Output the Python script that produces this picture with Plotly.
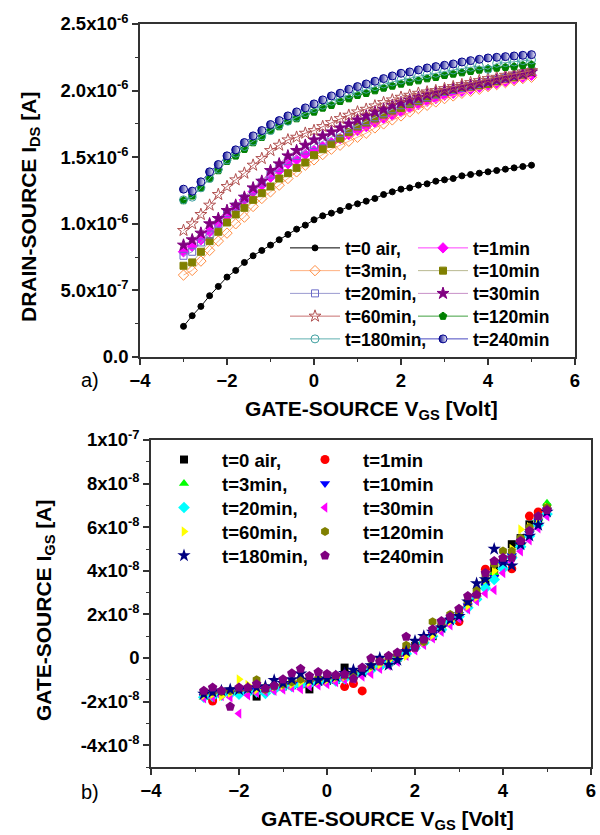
import plotly.graph_objects as go

# ---------------- data: panel a) drain-source current (values in 1e-6 A) ----------------
vgs_a = [round(-3 + 0.2 * i, 1) for i in range(41)]

ids_0air = [0.23,0.31,0.38,0.46,0.53,0.60,0.65,0.71,0.76,0.80,0.84,0.88,0.92,0.96,0.99,1.03,1.06,1.08,1.10,1.13,1.15,1.17,1.19,1.22,1.24,1.26,1.27,1.29,1.30,1.32,1.33,1.34,1.36,1.37,1.38,1.39,1.40,1.41,1.42,1.43,1.44]
ids_1min = [0.79,0.83,0.88,0.94,1.00,1.06,1.13,1.18,1.24,1.29,1.35,1.40,1.45,1.48,1.52,1.55,1.58,1.61,1.64,1.67,1.70,1.73,1.76,1.79,1.815,1.84,1.87,1.895,1.92,1.94,1.965,1.98,1.995,2.01,2.025,2.04,2.055,2.07,2.085,2.10,2.115]
ids_3min = [0.615,0.65,0.72,0.80,0.87,0.93,1.00,1.05,1.13,1.19,1.24,1.29,1.34,1.39,1.44,1.48,1.52,1.56,1.59,1.62,1.65,1.68,1.72,1.75,1.78,1.81,1.84,1.865,1.89,1.915,1.94,1.96,1.98,1.995,2.01,2.03,2.045,2.06,2.075,2.09,2.10]
ids_10min = [0.685,0.71,0.79,0.87,0.94,1.01,1.07,1.12,1.18,1.23,1.28,1.34,1.38,1.42,1.46,1.515,1.56,1.60,1.64,1.69,1.73,1.76,1.79,1.82,1.85,1.87,1.90,1.92,1.945,1.97,1.99,2.005,2.02,2.03,2.04,2.05,2.07,2.09,2.10,2.12,2.14]
ids_20min = [0.76,0.79,0.86,0.92,1.00,1.08,1.13,1.19,1.25,1.31,1.37,1.42,1.47,1.51,1.55,1.59,1.62,1.65,1.68,1.71,1.74,1.77,1.80,1.83,1.86,1.89,1.91,1.93,1.95,1.97,1.99,2.005,2.02,2.035,2.05,2.065,2.08,2.095,2.11,2.13,2.15]
ids_30min = [0.84,0.88,0.93,1.00,1.04,1.10,1.14,1.20,1.27,1.32,1.40,1.45,1.51,1.55,1.59,1.63,1.66,1.69,1.72,1.75,1.78,1.81,1.84,1.86,1.89,1.91,1.93,1.95,1.97,1.985,2.00,2.015,2.03,2.04,2.055,2.065,2.08,2.095,2.11,2.125,2.14]
ids_60min = [0.95,1.00,1.07,1.14,1.22,1.28,1.33,1.38,1.44,1.49,1.55,1.59,1.63,1.65,1.68,1.70,1.73,1.76,1.79,1.815,1.84,1.86,1.885,1.91,1.93,1.95,1.965,1.98,1.99,2.00,2.015,2.03,2.045,2.06,2.075,2.09,2.10,2.115,2.125,2.14,2.15]
ids_120min = [1.175,1.21,1.27,1.34,1.40,1.47,1.51,1.56,1.61,1.65,1.70,1.73,1.77,1.79,1.815,1.84,1.87,1.89,1.92,1.94,1.965,1.98,2.00,2.02,2.035,2.05,2.065,2.075,2.09,2.10,2.115,2.125,2.135,2.145,2.155,2.165,2.17,2.175,2.18,2.19,2.195]
ids_180min = [1.18,1.20,1.27,1.34,1.41,1.48,1.53,1.58,1.62,1.66,1.70,1.74,1.77,1.80,1.835,1.865,1.89,1.92,1.945,1.97,1.99,2.01,2.03,2.05,2.065,2.08,2.095,2.105,2.12,2.13,2.145,2.155,2.165,2.175,2.185,2.16,2.205,2.21,2.215,2.225,2.23]
ids_240min = [1.26,1.245,1.315,1.39,1.445,1.51,1.555,1.61,1.66,1.70,1.745,1.775,1.81,1.84,1.87,1.90,1.93,1.96,1.98,2.01,2.03,2.05,2.07,2.09,2.11,2.13,2.14,2.155,2.17,2.18,2.19,2.20,2.215,2.225,2.235,2.245,2.25,2.255,2.26,2.265,2.27]

# ---------------- data: panel b) gate-source current (values in 1e-8 A) ----------------
vgs_b = [round(-2.8 + 0.2 * i, 1) for i in range(40)]

igs_0air = [-1.65,-1.75,-1.6,-1.55,-1.5,-1.5,-1.77,-1.45,-1.35,-1.3,-1.25,-1.2,-1.44,-1.1,-1.05,-1.0,-0.44,-0.8,-0.65,-0.45,-0.3,-0.2,0.0,0.3,0.55,0.8,1.0,1.4,1.8,2.0,2.5,2.8,3.5,4.1,4.5,5.22,5.5,6.13,6.3,6.9]
igs_1min = [-1.75,-1.97,-1.65,-1.6,-1.55,-1.5,-1.45,-1.4,-1.35,-1.3,-1.2,-1.15,-1.1,-1.1,-1.05,-1.0,-1.31,-1.17,-1.51,-0.5,-0.35,-0.2,0.0,0.3,0.55,0.8,1.1,1.4,1.8,1.67,2.4,2.8,4.07,3.8,4.4,4.09,5.3,6.51,6.7,6.8]
igs_3min = [-1.8,-1.7,-1.65,-1.6,-1.6,-1.55,-1.5,-1.45,-1.4,-1.3,-1.25,-1.2,-1.15,-1.1,-1.05,-1.0,-0.9,-0.8,-0.65,-0.5,-0.35,-0.2,0.0,0.25,0.5,0.8,1.1,1.45,1.8,2.0,2.4,2.8,3.4,3.9,4.4,4.8,5.3,5.9,6.4,7.1]
igs_10min = [-1.75,-1.7,-1.65,-1.6,-1.55,-1.5,-1.48,-1.45,-1.38,-1.3,-1.25,-1.2,-1.15,-1.1,-1.05,-1.0,-0.9,-0.8,-0.65,-0.5,-0.35,-0.2,0.0,0.3,0.55,0.8,1.1,1.4,1.75,2.0,2.4,2.75,3.3,3.7,4.3,4.7,5.2,5.7,6.3,6.8]
igs_20min = [-1.8,-1.75,-1.7,-1.65,-1.66,-1.6,-1.55,-1.62,-1.45,-1.35,-1.3,-1.25,-1.2,-1.15,-1.1,-1.05,-0.95,-0.85,-0.7,-0.55,-0.4,-0.25,-0.05,0.2,0.45,0.7,1.0,1.3,1.65,1.9,2.3,2.7,3.2,3.6,4.1,4.6,5.1,5.6,6.1,6.6]
igs_30min = [-1.85,-1.8,-1.75,-1.8,-2.55,-1.71,-1.6,-1.55,-1.5,-1.45,-1.36,-1.43,-1.3,-1.25,-1.2,-1.1,-1.0,-0.95,-0.85,-0.73,-0.5,-0.35,-0.18,0.1,0.35,0.6,0.9,1.2,1.5,1.8,2.23,2.61,2.96,3.12,3.9,4.4,4.9,5.4,5.95,6.5]
igs_60min = [-1.7,-1.65,-1.75,-1.6,-0.98,-1.24,-1.45,-1.4,-1.3,-1.25,-1.2,-1.1,-1.1,-1.05,-1.0,-0.9,-0.85,-0.75,-0.6,-0.45,-0.3,-0.1,0.0,0.1,0.5,0.75,1.05,1.4,1.7,2.0,2.4,2.8,3.6,4.0,4.5,5.0,5.9,6.0,6.4,6.9]
igs_120min = [-1.6,-1.55,-1.55,-1.5,-1.45,-1.4,-1.0,-1.45,-1.3,-1.2,-1.1,-0.98,-1.0,-0.95,-0.9,-0.85,-0.8,-0.7,-0.55,-0.35,-0.1,0.05,0.15,0.58,0.6,0.75,1.66,1.6,2.0,2.1,2.6,3.1,3.83,4.3,4.91,4.9,5.5,6.0,6.5,6.9]
igs_180min = [-1.65,-1.56,-1.5,-1.44,-1.45,-1.4,-1.35,-1.3,-1.02,-1.15,-0.98,-0.72,-1.0,-1.02,-0.95,-0.85,-0.7,-0.55,-0.65,-0.34,0.0,-0.32,-0.1,0.3,0.78,1.0,1.2,1.39,1.75,1.92,2.58,3.42,3.61,5.0,4.4,4.24,5.2,5.6,6.1,6.7]
igs_240min = [-1.5,-1.35,-1.5,-2.23,-1.35,-1.35,-1.2,-1.4,-1.27,-0.98,-0.7,-0.49,-0.82,-0.64,-0.73,-0.78,-0.75,-0.95,-0.44,-0.01,-0.16,0.1,0.25,0.98,0.47,0.85,1.32,1.7,1.9,2.26,2.84,2.9,3.9,4.45,4.6,4.6,5.37,5.83,6.5,6.79]

labels = ["t=0 air,", "t=1min", "t=3min,", "t=10min", "t=20min,", "t=30min",
          "t=60min,", "t=120min", "t=180min,", "t=240min"]

# x tick labels / y tick labels
x_ticks = [-4, -2, 0, 2, 4, 6]
ya_tickvals = [0, 0.5e-6, 1.0e-6, 1.5e-6, 2.0e-6, 2.5e-6]
ya_ticktext = ["0.0", "5.0x10<sup>-7</sup>", "1.0x10<sup>-6</sup>", "1.5x10<sup>-6</sup>",
               "2.0x10<sup>-6</sup>", "2.5x10<sup>-6</sup>"]
yb_tickvals = [-4e-8, -2e-8, 0, 2e-8, 4e-8, 6e-8, 8e-8, 1e-7]
yb_ticktext = ["-4x10<sup>-8</sup>", "-2x10<sup>-8</sup>", "0", "2x10<sup>-8</sup>",
               "4x10<sup>-8</sup>", "6x10<sup>-8</sup>", "8x10<sup>-8</sup>", "1x10<sup>-7</sup>"]

FONT = "Liberation Sans, Arial, sans-serif"
W, H = 600, 835
def px_x(p): return p / W
def px_y(p): return 1 - p / H

def legend_name(k):
    return "legend" if k == 0 else "legend%d" % (k + 1)

fig = go.Figure()

# ---- panel a traces ----
ids_series = [ids_0air, ids_1min, ids_3min, ids_10min, ids_20min, ids_30min,
              ids_60min, ids_120min, ids_180min, ids_240min]
a_style = [
    dict(symbol="circle", mc="#000000", lc="#000000", size=6),
    dict(symbol="diamond", mc="#ff00ff", lc="#ff40ff", size=8),
    dict(symbol="diamond-open", mc="#ff8c40", lc="#ffb080", size=8),
    dict(symbol="square", mc="#808000", lc="#b8b890", size=7),
    dict(symbol="square-open", mc="#6a6ac8", lc="#9a9ad0", size=7),
    dict(symbol="star", mc="#800080", lc="#c890c8", size=9),
    dict(symbol="star-open", mc="#b05050", lc="#c87070", size=9),
    dict(symbol="pentagon", mc="#008000", lc="#40a040", size=8),
    dict(symbol="circle-open", mc="#40a0a0", lc="#60b0b0", size=8),
    dict(symbol="circle", mc="#00008c", lc="#4848c0", size=8),
]
for i, (vals, st) in enumerate(zip(ids_series, a_style)):
    marker = dict(symbol=st["symbol"], color=st["mc"], size=st["size"],
                  line=dict(color=st["mc"], width=1))
    if i == 9:
        marker["gradient"] = dict(type="horizontal", color="#ffffff")
    fig.add_trace(go.Scatter(
        x=vgs_a, y=[v * 1e-6 for v in vals], mode="lines+markers", name=labels[i],
        line=dict(color=st["lc"], width=1), marker=marker, showlegend=True,
        xaxis="x", yaxis="y", legend=legend_name(i)))

# ---- panel b traces ----
igs_series = [igs_0air, igs_1min, igs_3min, igs_10min, igs_20min, igs_30min,
              igs_60min, igs_120min, igs_180min, igs_240min]
b_style = [
    ("square", "#000000", 8), ("circle", "#ff0000", 9), ("triangle-up", "#00ff00", 9),
    ("triangle-down", "#0000ff", 9), ("diamond", "#00ffff", 9), ("triangle-left", "#ff00ff", 9),
    ("triangle-right", "#ffff00", 9), ("hexagon", "#808000", 9), ("star", "#000080", 10),
    ("pentagon", "#800080", 10),
]
for i, (vals, (sym, col, sz)) in enumerate(zip(igs_series, b_style)):
    fig.add_trace(go.Scatter(
        x=vgs_b, y=[v * 1e-8 for v in vals], mode="markers", name=labels[i],
        marker=dict(symbol=sym, color=col, size=sz, line=dict(width=0)), showlegend=True,
        xaxis="x2", yaxis="y2", legend=legend_name(10 + i)))

axis_common = dict(showline=True, linecolor="#333333", linewidth=1.5, mirror=True,
                   ticks="outside", ticklen=6, tickwidth=1.5, tickcolor="#333333",
                   showgrid=False, zeroline=False, automargin=False,
                   tickfont=dict(family=FONT, size=18.5, color="#000000", weight="bold"))

minor_x = dict(ticks="outside", ticklen=3, tickwidth=1.2, tickcolor="#333333", dtick=1, tick0=-3)
fig.update_layout(
    width=W, height=H, margin=dict(l=0, r=0, t=0, b=0, autoexpand=False),
    paper_bgcolor="white", plot_bgcolor="white", showlegend=True,
    font=dict(family=FONT, color="#000000"),
    xaxis=dict(domain=[px_x(140), px_x(575)], range=[-4, 6], anchor="y",
               tickmode="array", tickvals=x_ticks, minor=minor_x, **axis_common),
    yaxis=dict(domain=[px_y(357), px_y(24)], range=[0, 2.5e-6], anchor="x",
               tickmode="array", tickvals=ya_tickvals, ticktext=ya_ticktext,
               minor=dict(ticks="outside", ticklen=3, tickwidth=1.2, tickcolor="#333333", dtick=0.25e-6, tick0=0),
               **axis_common),
    xaxis2=dict(domain=[px_x(151), px_x(591)], range=[-4, 6], anchor="y2",
                tickmode="array", tickvals=x_ticks, minor=minor_x, **axis_common),
    yaxis2=dict(domain=[px_y(767), px_y(440)], range=[-5e-8, 1e-7], anchor="x2",
                tickmode="array", tickvals=yb_tickvals, ticktext=yb_ticktext,
                minor=dict(ticks="outside", ticklen=3, tickwidth=1.2, tickcolor="#333333", dtick=1e-8, tick0=0),
                **axis_common),
)

# one legend per entry so the 2-column grid matches the reference exactly
leg_a = dict(xanchor="left", yanchor="middle", bgcolor="rgba(0,0,0,0)", borderwidth=0,
             itemwidth=50, visible=True,
             font=dict(family=FONT, size=17.5, color="#000000", weight="bold"))
leg_b = dict(xanchor="left", yanchor="middle", bgcolor="rgba(0,0,0,0)", borderwidth=0,
             itemwidth=66, visible=True,
             font=dict(family=FONT, size=18.5, color="#000000", weight="bold"))
legend_layout = {}
for i in range(10):
    row, col = i // 2, i % 2
    legend_layout[legend_name(i)] = dict(x=px_x([285, 413][col]), y=px_y(248 + 22.75 * row), **leg_a)
    legend_layout[legend_name(10 + i)] = dict(x=px_x([146, 287][col]), y=px_y(460 + 24 * row), **leg_b)
fig.update_layout(**legend_layout)

title_font = dict(family=FONT, size=21, color="#000000", weight="bold")
ann_common = dict(showarrow=False, xref="paper", yref="paper", xanchor="center", yanchor="middle")
fig.add_annotation(text="DRAIN-SOURCE I<sub>DS</sub> [A]", textangle=-90,
                   x=px_x(30), y=px_y(207), font=title_font, **ann_common)
fig.add_annotation(text="GATE-SOURCE V<sub>GS</sub> [Volt]",
                   x=px_x(371), y=px_y(410), font=title_font, **ann_common)
fig.add_annotation(text="GATE-SOURCE I<sub>GS</sub> [A]", textangle=-90,
                   x=px_x(45), y=px_y(610), font=title_font, **ann_common)
fig.add_annotation(text="GATE-SOURCE V<sub>GS</sub> [Volt]",
                   x=px_x(387), y=px_y(820), font=title_font, **ann_common)
fig.add_annotation(text="a)", x=px_x(90), y=px_y(380),
                   font=dict(family=FONT, size=20, color="#000000"), **ann_common)
fig.add_annotation(text="b)", x=px_x(90), y=px_y(792),
                   font=dict(family=FONT, size=20, color="#000000"), **ann_common)

fig.write_html("out.html")
